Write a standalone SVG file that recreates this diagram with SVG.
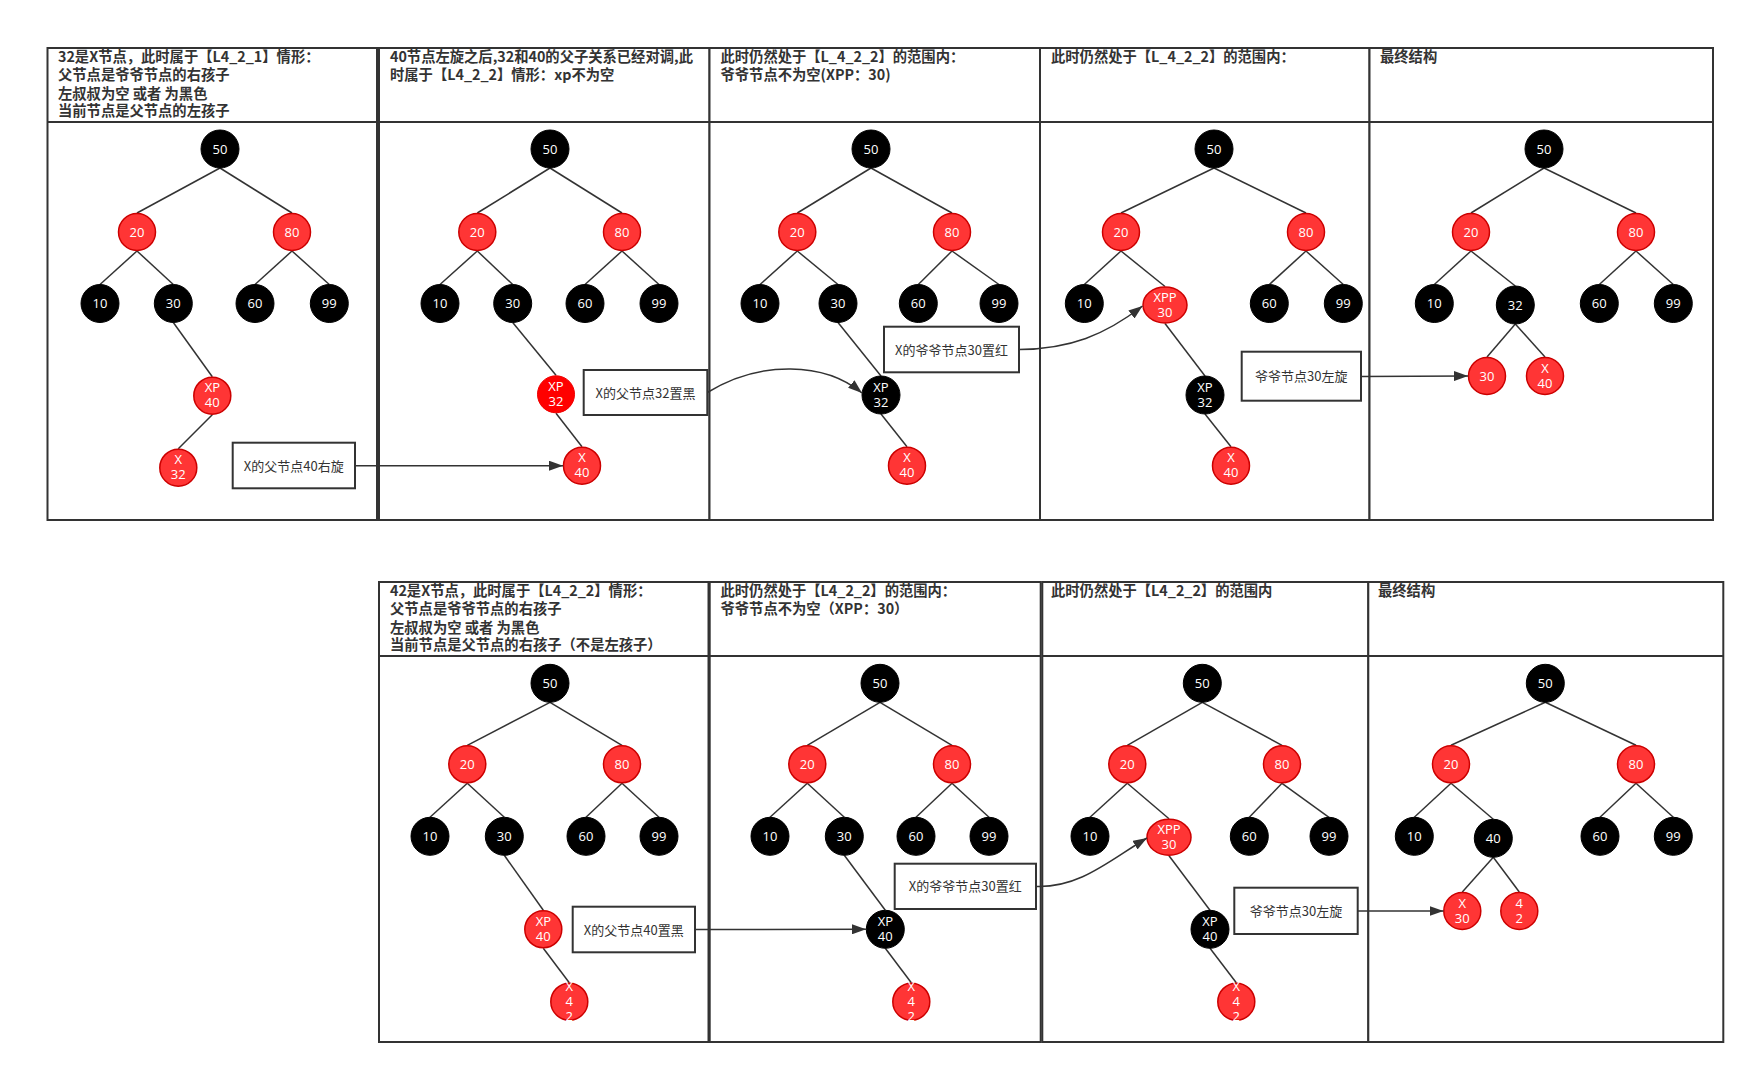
<svg xmlns="http://www.w3.org/2000/svg" width="1755" height="1073" viewBox="0 0 1755 1073">
<style>
.panel{fill:#fff;stroke:#333;stroke-width:2}
.hl{stroke:#333;stroke-width:2}
.hdr{font-family:"Noto Sans CJK SC","Noto Sans",sans-serif;font-weight:bold;font-size:14.3px;fill:#333}
.e{stroke:#333;stroke-width:1.5}
.b{fill:#000;stroke:#000;stroke-width:1}
.r{fill:#ff3535;stroke:#cc0000;stroke-width:1.5}
.rr{fill:#ff0000;stroke:#ee0000;stroke-width:1}
.nt{font-family:"Open Sans","Noto Sans",sans-serif;font-size:13px;fill:#fff;text-anchor:middle}
.box{fill:#fff;stroke:#333;stroke-width:2}
.lbl{font-family:"Noto Sans CJK SC","Noto Sans",sans-serif;font-size:13px;fill:#333;text-anchor:middle}
.c{stroke:#333;stroke-width:1.5;fill:none;marker-end:url(#arr)}
</style>
<defs>
<marker id="arr" viewBox="0 0 14 10" refX="14" refY="5" markerWidth="14" markerHeight="10" markerUnits="userSpaceOnUse" orient="auto"><path d="M0,0 L14,5 L0,10 z" fill="#333"/></marker>
</defs>
<rect width="1755" height="1073" fill="#fff"/>

<!-- Panels top row -->
<g id="panel-t1"><rect class="panel" x="47.5" y="48" width="329.5" height="472"/><line class="hl" x1="47.5" y1="122" x2="377" y2="122"/>
<text class="hdr" x="58" y="62">32是X节点，此时属于【L4_2_1】情形：</text>
<text class="hdr" x="58" y="80">父节点是爷爷节点的右孩子</text>
<text class="hdr" x="58" y="98.5">左叔叔为空 或者 为黑色</text>
<text class="hdr" x="58" y="116">当前节点是父节点的左孩子</text></g>
<g id="panel-t2"><rect class="panel" x="379" y="48" width="330.5" height="472"/><line class="hl" x1="379" y1="122" x2="709.5" y2="122"/>
<text class="hdr" x="390" y="62">40节点左旋之后,32和40的父子关系已经对调,此</text>
<text class="hdr" x="390" y="80">时属于【L4_2_2】情形：xp不为空</text></g>
<g id="panel-t3"><rect class="panel" x="709.5" y="48" width="330.5" height="472"/><line class="hl" x1="709.5" y1="122" x2="1040" y2="122"/>
<text class="hdr" x="720.5" y="62">此时仍然处于【L_4_2_2】的范围内：</text>
<text class="hdr" x="720.5" y="80">爷爷节点不为空(XPP：30)</text></g>
<g id="panel-t4"><rect class="panel" x="1040" y="48" width="329.5" height="472"/><line class="hl" x1="1040" y1="122" x2="1369.5" y2="122"/>
<text class="hdr" x="1051" y="62">此时仍然处于【L_4_2_2】的范围内：</text></g>
<g id="panel-t5"><rect class="panel" x="1369.5" y="48" width="343.5" height="472"/><line class="hl" x1="1369.5" y1="122" x2="1713" y2="122"/>
<text class="hdr" x="1380" y="62">最终结构</text></g>

<!-- Panels bottom row -->
<g id="panel-b1"><rect class="panel" x="379" y="582" width="329.5" height="460"/><line class="hl" x1="379" y1="656" x2="708.5" y2="656"/>
<text class="hdr" x="390" y="596">42是X节点，此时属于【L4_2_2】情形：</text>
<text class="hdr" x="390" y="614">父节点是爷爷节点的右孩子</text>
<text class="hdr" x="390" y="632.5">左叔叔为空 或者 为黑色</text>
<text class="hdr" x="390" y="650">当前节点是父节点的右孩子（不是左孩子）</text></g>
<g id="panel-b2"><rect class="panel" x="709.7" y="582" width="331" height="460"/><line class="hl" x1="709.7" y1="656" x2="1040.7" y2="656"/>
<text class="hdr" x="720.5" y="596">此时仍然处于【L4_2_2】的范围内：</text>
<text class="hdr" x="720.5" y="614">爷爷节点不为空（XPP：30）</text></g>
<g id="panel-b3"><rect class="panel" x="1042.3" y="582" width="326" height="460"/><line class="hl" x1="1042.3" y1="656" x2="1368.3" y2="656"/>
<text class="hdr" x="1051" y="596">此时仍然处于【L4_2_2】的范围内</text></g>
<g id="panel-b4"><rect class="panel" x="1368.3" y="582" width="355" height="460"/><line class="hl" x1="1368.3" y1="656" x2="1723.3" y2="656"/>
<text class="hdr" x="1378" y="596">最终结构</text></g>

<!-- Tree edges -->
<g id="tree-edges">
<!-- T1 -->
<line class="e" x1="220" y1="168" x2="137" y2="213"/><line class="e" x1="220" y1="168" x2="292" y2="213"/>
<line class="e" x1="137" y1="251" x2="100" y2="284.5"/><line class="e" x1="137" y1="251" x2="173.3" y2="284.5"/>
<line class="e" x1="292" y1="251" x2="255" y2="284.5"/><line class="e" x1="292" y1="251" x2="329.3" y2="284.5"/>
<line class="e" x1="173.3" y1="322.5" x2="212.3" y2="376.7"/><line class="e" x1="212.3" y1="414.7" x2="178.3" y2="448.7"/>
<!-- T2 -->
<line class="e" x1="550" y1="168" x2="477.3" y2="213"/><line class="e" x1="550" y1="168" x2="622" y2="213"/>
<line class="e" x1="477.3" y1="251" x2="440" y2="284.5"/><line class="e" x1="477.3" y1="251" x2="512.7" y2="284.5"/>
<line class="e" x1="622" y1="251" x2="585" y2="284.5"/><line class="e" x1="622" y1="251" x2="659" y2="284.5"/>
<line class="e" x1="512.7" y1="322.5" x2="556" y2="375.3"/><line class="e" x1="556" y1="413.3" x2="582" y2="446.7"/>
<!-- T3 -->
<line class="e" x1="871" y1="168" x2="797.3" y2="213"/><line class="e" x1="871" y1="168" x2="952" y2="213"/>
<line class="e" x1="797.3" y1="251" x2="760" y2="284.5"/><line class="e" x1="797.3" y1="251" x2="838" y2="284.5"/>
<line class="e" x1="952" y1="251" x2="918.3" y2="284.5"/><line class="e" x1="952" y1="251" x2="999" y2="284.5"/>
<line class="e" x1="838" y1="322.5" x2="881" y2="376"/><line class="e" x1="881" y1="414" x2="907" y2="446.7"/>
<!-- T4 -->
<line class="e" x1="1214" y1="168" x2="1121" y2="213"/><line class="e" x1="1214" y1="168" x2="1306" y2="213"/>
<line class="e" x1="1121" y1="251" x2="1084.3" y2="284.5"/><line class="e" x1="1121" y1="251" x2="1165" y2="286.5"/>
<line class="e" x1="1306" y1="251" x2="1269.3" y2="284.5"/><line class="e" x1="1306" y1="251" x2="1343.3" y2="284.5"/>
<line class="e" x1="1165" y1="323.5" x2="1205" y2="376"/><line class="e" x1="1205" y1="414" x2="1231" y2="446.7"/>
<!-- T5 -->
<line class="e" x1="1544" y1="168" x2="1471" y2="213"/><line class="e" x1="1544" y1="168" x2="1636" y2="213"/>
<line class="e" x1="1471" y1="251" x2="1434.3" y2="284.5"/><line class="e" x1="1471" y1="251" x2="1515.3" y2="286"/>
<line class="e" x1="1636" y1="251" x2="1599.3" y2="284.5"/><line class="e" x1="1636" y1="251" x2="1673.3" y2="284.5"/>
<line class="e" x1="1515.3" y1="324" x2="1487" y2="357"/><line class="e" x1="1515.3" y1="324" x2="1545" y2="357"/>
<!-- B1 -->
<line class="e" x1="550" y1="702.3" x2="467.3" y2="745.3"/><line class="e" x1="550" y1="702.3" x2="622" y2="745.3"/>
<line class="e" x1="467.3" y1="783.3" x2="430" y2="817.3"/><line class="e" x1="467.3" y1="783.3" x2="504.3" y2="817.3"/>
<line class="e" x1="622" y1="783.3" x2="586" y2="817.3"/><line class="e" x1="622" y1="783.3" x2="659" y2="817.3"/>
<line class="e" x1="504.3" y1="855.3" x2="543.3" y2="910.3"/><line class="e" x1="543.3" y1="948.3" x2="569.3" y2="982.7"/>
<!-- B2 -->
<line class="e" x1="880" y1="702.3" x2="807.3" y2="745.3"/><line class="e" x1="880" y1="702.3" x2="952" y2="745.3"/>
<line class="e" x1="807.3" y1="783.3" x2="770" y2="817.3"/><line class="e" x1="807.3" y1="783.3" x2="844.3" y2="817.3"/>
<line class="e" x1="952" y1="783.3" x2="916" y2="817.3"/><line class="e" x1="952" y1="783.3" x2="989" y2="817.3"/>
<line class="e" x1="844.3" y1="855.3" x2="885.3" y2="910.3"/><line class="e" x1="885.3" y1="948.3" x2="911.3" y2="982.7"/>
<!-- B3 -->
<line class="e" x1="1202.3" y1="702.3" x2="1127.3" y2="745.3"/><line class="e" x1="1202.3" y1="702.3" x2="1282" y2="745.3"/>
<line class="e" x1="1127.3" y1="783.3" x2="1090" y2="817.3"/><line class="e" x1="1127.3" y1="783.3" x2="1169" y2="818.8"/>
<line class="e" x1="1282" y1="783.3" x2="1249.3" y2="817.3"/><line class="e" x1="1282" y1="783.3" x2="1329" y2="817.3"/>
<line class="e" x1="1169" y1="855.8" x2="1210" y2="910.3"/><line class="e" x1="1210" y1="948.3" x2="1236.3" y2="982.7"/>
<!-- B4 -->
<line class="e" x1="1545.3" y1="702.3" x2="1451" y2="745.3"/><line class="e" x1="1545.3" y1="702.3" x2="1636" y2="745.3"/>
<line class="e" x1="1451" y1="783.3" x2="1414.3" y2="817.3"/><line class="e" x1="1451" y1="783.3" x2="1493.3" y2="819.3"/>
<line class="e" x1="1636" y1="783.3" x2="1600" y2="817.3"/><line class="e" x1="1636" y1="783.3" x2="1673.3" y2="817.3"/>
<line class="e" x1="1493.3" y1="857.3" x2="1462.3" y2="892"/><line class="e" x1="1493.3" y1="857.3" x2="1519.3" y2="892"/>
</g>

<!-- Nodes T1 -->
<g id="t1-50"><circle class="b" cx="220" cy="149" r="19"/><text class="nt" x="220" y="153.6">50</text></g>
<g id="t1-20"><circle class="r" cx="137" cy="232" r="18.5"/><text class="nt" x="137" y="236.6">20</text></g>
<g id="t1-80"><circle class="r" cx="292" cy="232" r="18.5"/><text class="nt" x="292" y="236.6">80</text></g>
<g id="t1-10"><circle class="b" cx="100" cy="303.5" r="19"/><text class="nt" x="100" y="308.1">10</text></g>
<g id="t1-30"><circle class="b" cx="173.3" cy="303.5" r="19"/><text class="nt" x="173.3" y="308.1">30</text></g>
<g id="t1-60"><circle class="b" cx="255" cy="303.5" r="19"/><text class="nt" x="255" y="308.1">60</text></g>
<g id="t1-99"><circle class="b" cx="329.3" cy="303.5" r="19"/><text class="nt" x="329.3" y="308.1">99</text></g>
<g id="t1-xp40"><circle class="r" cx="212.3" cy="395.7" r="18.5"/><text class="nt" x="212.3" y="392.3">XP</text><text class="nt" x="212.3" y="407.3">40</text></g>
<g id="t1-x32"><circle class="r" cx="178.3" cy="467.7" r="18.5"/><text class="nt" x="178.3" y="464.3">X</text><text class="nt" x="178.3" y="479.3">32</text></g>
<g id="t1-box"><rect class="box" x="232.7" y="442.7" width="122.3" height="45.6"/><text class="lbl" x="293.8" y="470.5">X的父节点40右旋</text></g>

<!-- Nodes T2 -->
<g id="t2-50"><circle class="b" cx="550" cy="149" r="19"/><text class="nt" x="550" y="153.6">50</text></g>
<g id="t2-20"><circle class="r" cx="477.3" cy="232" r="18.5"/><text class="nt" x="477.3" y="236.6">20</text></g>
<g id="t2-80"><circle class="r" cx="622" cy="232" r="18.5"/><text class="nt" x="622" y="236.6">80</text></g>
<g id="t2-10"><circle class="b" cx="440" cy="303.5" r="19"/><text class="nt" x="440" y="308.1">10</text></g>
<g id="t2-30"><circle class="b" cx="512.7" cy="303.5" r="19"/><text class="nt" x="512.7" y="308.1">30</text></g>
<g id="t2-60"><circle class="b" cx="585" cy="303.5" r="19"/><text class="nt" x="585" y="308.1">60</text></g>
<g id="t2-99"><circle class="b" cx="659" cy="303.5" r="19"/><text class="nt" x="659" y="308.1">99</text></g>
<g id="t2-xp32"><circle class="rr" cx="556" cy="394.3" r="18.5"/><text class="nt" x="556" y="390.9">XP</text><text class="nt" x="556" y="405.9">32</text></g>
<g id="t2-x40"><circle class="r" cx="582" cy="465.7" r="18.5"/><text class="nt" x="582" y="462.3">X</text><text class="nt" x="582" y="477.3">40</text></g>
<g id="t2-box"><rect class="box" x="583.7" y="370" width="123.6" height="45"/><text class="lbl" x="645.5" y="397.5">X的父节点32置黑</text></g>

<!-- Nodes T3 -->
<g id="t3-50"><circle class="b" cx="871" cy="149" r="19"/><text class="nt" x="871" y="153.6">50</text></g>
<g id="t3-20"><circle class="r" cx="797.3" cy="232" r="18.5"/><text class="nt" x="797.3" y="236.6">20</text></g>
<g id="t3-80"><circle class="r" cx="952" cy="232" r="18.5"/><text class="nt" x="952" y="236.6">80</text></g>
<g id="t3-10"><circle class="b" cx="760" cy="303.5" r="19"/><text class="nt" x="760" y="308.1">10</text></g>
<g id="t3-30"><circle class="b" cx="838" cy="303.5" r="19"/><text class="nt" x="838" y="308.1">30</text></g>
<g id="t3-60"><circle class="b" cx="918.3" cy="303.5" r="19"/><text class="nt" x="918.3" y="308.1">60</text></g>
<g id="t3-99"><circle class="b" cx="999" cy="303.5" r="19"/><text class="nt" x="999" y="308.1">99</text></g>
<g id="t3-box"><rect class="box" x="884" y="326.7" width="135" height="45.6"/><text class="lbl" x="951.5" y="354.5">X的爷爷节点30置红</text></g>
<g id="t3-xp32"><circle class="b" cx="881" cy="395" r="19"/><text class="nt" x="881" y="391.6">XP</text><text class="nt" x="881" y="406.6">32</text></g>
<g id="t3-x40"><circle class="r" cx="907" cy="465.7" r="18.5"/><text class="nt" x="907" y="462.3">X</text><text class="nt" x="907" y="477.3">40</text></g>

<!-- Nodes T4 -->
<g id="t4-50"><circle class="b" cx="1214" cy="149" r="19"/><text class="nt" x="1214" y="153.6">50</text></g>
<g id="t4-20"><circle class="r" cx="1121" cy="232" r="18.5"/><text class="nt" x="1121" y="236.6">20</text></g>
<g id="t4-80"><circle class="r" cx="1306" cy="232" r="18.5"/><text class="nt" x="1306" y="236.6">80</text></g>
<g id="t4-10"><circle class="b" cx="1084.3" cy="303.5" r="19"/><text class="nt" x="1084.3" y="308.1">10</text></g>
<g id="t4-xpp30"><ellipse class="r" cx="1165" cy="305" rx="22" ry="18"/><text class="nt" x="1165" y="301.6">XPP</text><text class="nt" x="1165" y="316.6">30</text></g>
<g id="t4-60"><circle class="b" cx="1269.3" cy="303.5" r="19"/><text class="nt" x="1269.3" y="308.1">60</text></g>
<g id="t4-99"><circle class="b" cx="1343.3" cy="303.5" r="19"/><text class="nt" x="1343.3" y="308.1">99</text></g>
<g id="t4-xp32"><circle class="b" cx="1205" cy="395" r="19"/><text class="nt" x="1205" y="391.6">XP</text><text class="nt" x="1205" y="406.6">32</text></g>
<g id="t4-x40"><circle class="r" cx="1231" cy="465.7" r="18.5"/><text class="nt" x="1231" y="462.3">X</text><text class="nt" x="1231" y="477.3">40</text></g>
<g id="t4-box"><rect class="box" x="1241.7" y="351.7" width="119.3" height="49"/><text class="lbl" x="1301.3" y="381">爷爷节点30左旋</text></g>

<!-- Nodes T5 -->
<g id="t5-50"><circle class="b" cx="1544" cy="149" r="19"/><text class="nt" x="1544" y="153.6">50</text></g>
<g id="t5-20"><circle class="r" cx="1471" cy="232" r="18.5"/><text class="nt" x="1471" y="236.6">20</text></g>
<g id="t5-80"><circle class="r" cx="1636" cy="232" r="18.5"/><text class="nt" x="1636" y="236.6">80</text></g>
<g id="t5-10"><circle class="b" cx="1434.3" cy="303.5" r="19"/><text class="nt" x="1434.3" y="308.1">10</text></g>
<g id="t5-32"><circle class="b" cx="1515.3" cy="305" r="19"/><text class="nt" x="1515.3" y="309.6">32</text></g>
<g id="t5-60"><circle class="b" cx="1599.3" cy="303.5" r="19"/><text class="nt" x="1599.3" y="308.1">60</text></g>
<g id="t5-99"><circle class="b" cx="1673.3" cy="303.5" r="19"/><text class="nt" x="1673.3" y="308.1">99</text></g>
<g id="t5-30"><circle class="r" cx="1487" cy="376" r="18.5"/><text class="nt" x="1487" y="380.6">30</text></g>
<g id="t5-x40"><circle class="r" cx="1545" cy="376" r="18.5"/><text class="nt" x="1545" y="372.6">X</text><text class="nt" x="1545" y="387.6">40</text></g>

<!-- Nodes B1 -->
<g id="b1-50"><circle class="b" cx="550" cy="683.3" r="19"/><text class="nt" x="550" y="687.9">50</text></g>
<g id="b1-20"><circle class="r" cx="467.3" cy="764.3" r="18.5"/><text class="nt" x="467.3" y="768.9">20</text></g>
<g id="b1-80"><circle class="r" cx="622" cy="764.3" r="18.5"/><text class="nt" x="622" y="768.9">80</text></g>
<g id="b1-10"><circle class="b" cx="430" cy="836.3" r="19"/><text class="nt" x="430" y="840.9">10</text></g>
<g id="b1-30"><circle class="b" cx="504.3" cy="836.3" r="19"/><text class="nt" x="504.3" y="840.9">30</text></g>
<g id="b1-60"><circle class="b" cx="586" cy="836.3" r="19"/><text class="nt" x="586" y="840.9">60</text></g>
<g id="b1-99"><circle class="b" cx="659" cy="836.3" r="19"/><text class="nt" x="659" y="840.9">99</text></g>
<g id="b1-xp40"><circle class="r" cx="543.3" cy="929.3" r="18.5"/><text class="nt" x="543.3" y="925.9">XP</text><text class="nt" x="543.3" y="940.9">40</text></g>
<g id="b1-x42"><circle class="r" cx="569.3" cy="1001.7" r="18.5"/><text class="nt" x="569.3" y="991.3">X</text><text class="nt" x="569.3" y="1006.3">4</text><text class="nt" x="569.3" y="1021.3">2</text></g>
<g id="b1-box"><rect class="box" x="572.7" y="906.7" width="122.3" height="45.6"/><text class="lbl" x="633.8" y="934.5">X的父节点40置黑</text></g>

<!-- Nodes B2 -->
<g id="b2-50"><circle class="b" cx="880" cy="683.3" r="19"/><text class="nt" x="880" y="687.9">50</text></g>
<g id="b2-20"><circle class="r" cx="807.3" cy="764.3" r="18.5"/><text class="nt" x="807.3" y="768.9">20</text></g>
<g id="b2-80"><circle class="r" cx="952" cy="764.3" r="18.5"/><text class="nt" x="952" y="768.9">80</text></g>
<g id="b2-10"><circle class="b" cx="770" cy="836.3" r="19"/><text class="nt" x="770" y="840.9">10</text></g>
<g id="b2-30"><circle class="b" cx="844.3" cy="836.3" r="19"/><text class="nt" x="844.3" y="840.9">30</text></g>
<g id="b2-60"><circle class="b" cx="916" cy="836.3" r="19"/><text class="nt" x="916" y="840.9">60</text></g>
<g id="b2-99"><circle class="b" cx="989" cy="836.3" r="19"/><text class="nt" x="989" y="840.9">99</text></g>
<g id="b2-box"><rect class="box" x="894.7" y="863.7" width="141.3" height="45.3"/><text class="lbl" x="965.3" y="891.4">X的爷爷节点30置红</text></g>
<g id="b2-xp40"><circle class="b" cx="885.3" cy="929.3" r="19"/><text class="nt" x="885.3" y="925.9">XP</text><text class="nt" x="885.3" y="940.9">40</text></g>
<g id="b2-x42"><circle class="r" cx="911.3" cy="1001.7" r="18.5"/><text class="nt" x="911.3" y="991.3">X</text><text class="nt" x="911.3" y="1006.3">4</text><text class="nt" x="911.3" y="1021.3">2</text></g>

<!-- Nodes B3 -->
<g id="b3-50"><circle class="b" cx="1202.3" cy="683.3" r="19"/><text class="nt" x="1202.3" y="687.9">50</text></g>
<g id="b3-20"><circle class="r" cx="1127.3" cy="764.3" r="18.5"/><text class="nt" x="1127.3" y="768.9">20</text></g>
<g id="b3-80"><circle class="r" cx="1282" cy="764.3" r="18.5"/><text class="nt" x="1282" y="768.9">80</text></g>
<g id="b3-10"><circle class="b" cx="1090" cy="836.3" r="19"/><text class="nt" x="1090" y="840.9">10</text></g>
<g id="b3-xpp30"><ellipse class="r" cx="1169" cy="837.3" rx="22" ry="18"/><text class="nt" x="1169" y="833.9">XPP</text><text class="nt" x="1169" y="848.9">30</text></g>
<g id="b3-60"><circle class="b" cx="1249.3" cy="836.3" r="19"/><text class="nt" x="1249.3" y="840.9">60</text></g>
<g id="b3-99"><circle class="b" cx="1329" cy="836.3" r="19"/><text class="nt" x="1329" y="840.9">99</text></g>
<g id="b3-xp40"><circle class="b" cx="1210" cy="929.3" r="19"/><text class="nt" x="1210" y="925.9">XP</text><text class="nt" x="1210" y="940.9">40</text></g>
<g id="b3-x42"><circle class="r" cx="1236.3" cy="1001.7" r="18.5"/><text class="nt" x="1236.3" y="991.3">X</text><text class="nt" x="1236.3" y="1006.3">4</text><text class="nt" x="1236.3" y="1021.3">2</text></g>
<g id="b3-box"><rect class="box" x="1234.3" y="887.7" width="123.4" height="46.3"/><text class="lbl" x="1296" y="916">爷爷节点30左旋</text></g>

<!-- Nodes B4 -->
<g id="b4-50"><circle class="b" cx="1545.3" cy="683.3" r="19"/><text class="nt" x="1545.3" y="687.9">50</text></g>
<g id="b4-20"><circle class="r" cx="1451" cy="764.3" r="18.5"/><text class="nt" x="1451" y="768.9">20</text></g>
<g id="b4-80"><circle class="r" cx="1636" cy="764.3" r="18.5"/><text class="nt" x="1636" y="768.9">80</text></g>
<g id="b4-10"><circle class="b" cx="1414.3" cy="836.3" r="19"/><text class="nt" x="1414.3" y="840.9">10</text></g>
<g id="b4-40"><circle class="b" cx="1493.3" cy="838.3" r="19"/><text class="nt" x="1493.3" y="842.9">40</text></g>
<g id="b4-60"><circle class="b" cx="1600" cy="836.3" r="19"/><text class="nt" x="1600" y="840.9">60</text></g>
<g id="b4-99"><circle class="b" cx="1673.3" cy="836.3" r="19"/><text class="nt" x="1673.3" y="840.9">99</text></g>
<g id="b4-x30"><circle class="r" cx="1462.3" cy="911" r="18.5"/><text class="nt" x="1462.3" y="907.6">X</text><text class="nt" x="1462.3" y="922.6">30</text></g>
<g id="b4-42"><circle class="r" cx="1519.3" cy="911" r="18.5"/><text class="nt" x="1519.3" y="907.6">4</text><text class="nt" x="1519.3" y="922.6">2</text></g>

<!-- Connectors -->
<g id="connectors">
<path class="c" d="M355,465.7 L563,465.7"/>
<path class="c" d="M707.3,392.5 C760,360 825,362 862,393"/>
<path class="c" d="M1019,349.5 C1070,349 1105,335 1142.5,306"/>
<path class="c" d="M1361,376.5 L1468,376"/>
<path class="c" d="M695,929.5 L866,929.3"/>
<path class="c" d="M1036,886.5 C1080,888 1110,860 1147,838"/>
<path class="c" d="M1357.7,911 L1443.5,911"/>
</g>
</svg>
